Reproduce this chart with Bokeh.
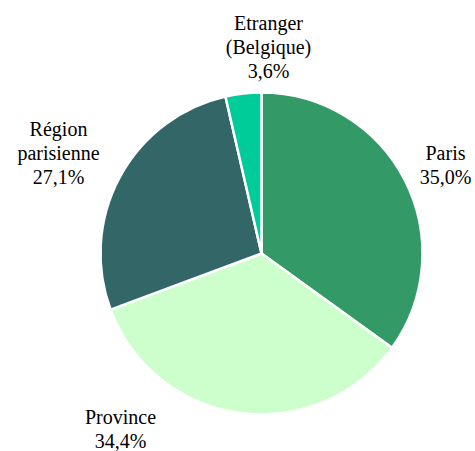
import numpy as np
from bokeh.plotting import figure
from bokeh.models import Range1d, ColumnDataSource
from bokeh.core.properties import value
from bokeh.embed import file_html
from bokeh.resources import INLINE

# Data
categories = ["Paris", "Province", "Région parisienne", "Etranger (Belgique)"]
shares = [35.0, 34.4, 27.1, 3.6]
label_lines = [["Paris", "35,0%"], ["Province", "34,4%"],
               ["Région", "parisienne", "27,1%"], ["Etranger", "(Belgique)", "3,6%"]]
colors = ["#339966", "#CCFFCC", "#336666", "#00CC99"]

# Layout (figure pixel coordinates)
W, H = 475, 451
cx, cy, R = 261, H - 253, 161
label_pos = [(445, H - 152), (120, H - 416), (58, H - 128), (268, H - 22)]  # first line
line_h = 24

p = figure(width=W, height=H, output_backend="svg", toolbar_location=None,
           x_range=Range1d(0, W), y_range=Range1d(0, H), min_border=0)
p.axis.visible = False
p.grid.visible = False
p.outline_line_color = "white"

total = sum(shares)
frac = np.array(shares) / total
ends = np.cumsum(frac)
starts = np.concatenate([[0], ends[:-1]])
start_angle = np.pi / 2 - starts * 2 * np.pi
end_angle = np.pi / 2 - ends * 2 * np.pi

src = ColumnDataSource(dict(start=start_angle, end=end_angle, color=colors, cat=categories))
p.wedge(x=cx, y=cy, radius=R, start_angle="start", end_angle="end", direction="clock",
        fill_color="color", line_color="white", line_width=2.5, source=src)

tx, ty, tt = [], [], []
for (lx, ly), lines in zip(label_pos, label_lines):
    for i, t in enumerate(lines):
        tx.append(lx)
        ty.append(ly - i * line_h)
        tt.append(t)
p.text(x=tx, y=ty, text=tt, text_font=value("Liberation Serif"),
       text_align="center", text_baseline="middle",
       text_font_size="20px", text_color="black")

open("out.html", "w").write(file_html(p, INLINE))
